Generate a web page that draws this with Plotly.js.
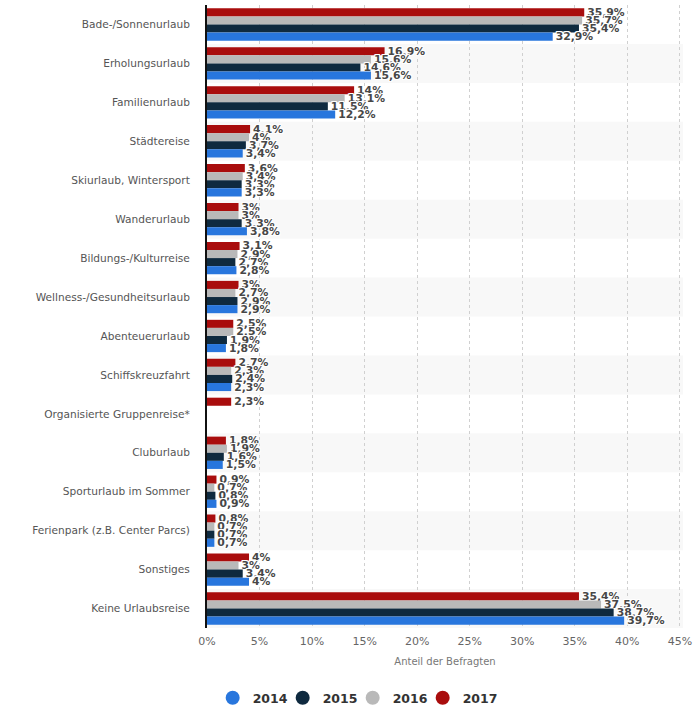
<!DOCTYPE html>
<html>
<head>
<meta charset="utf-8">
<script src="https://cdn.plot.ly/plotly-3.0.1.min.js"></script>
<style>html,body{margin:0;padding:0;background:#fff;}#chart{width:695px;height:716px;}</style>
</head>
<body>
<div id="chart"></div>
<script>
const categories = [
  "Bade-/Sonnenurlaub","Erholungsurlaub","Familienurlaub","Städtereise",
  "Skiurlaub, Wintersport","Wanderurlaub","Bildungs-/Kulturreise",
  "Wellness-/Gesundheitsurlaub","Abenteuerurlaub","Schiffskreuzfahrt",
  "Organisierte Gruppenreise*","Cluburlaub","Sporturlaub im Sommer",
  "Ferienpark (z.B. Center Parcs)","Sonstiges","Keine Urlaubsreise"
];
const years = ["2014","2015","2016","2017"];
const v2014 = [32.9,15.6,12.2,3.4,3.3,3.8,2.8,2.9,1.8,2.3,null,1.5,0.9,0.7,4,39.7];
const v2015 = [35.4,14.6,11.5,3.7,3.3,3.3,2.7,2.9,1.9,2.4,null,1.6,0.8,0.7,3.4,38.7];
const v2016 = [35.7,15.6,13.1,4,3.4,3,2.9,2.7,2.5,2.3,null,1.9,0.7,0.7,3,37.5];
const v2017 = [35.9,16.9,14,4.1,3.6,3,3.1,3,2.5,2.7,2.3,1.8,0.9,0.8,4,35.4];
const colors = {"2014":"#2876dd","2015":"#0f2a3f","2016":"#b9b9b9","2017":"#a90d0d"};
const seriesByYear = {"2014":v2014,"2015":v2015,"2016":v2016,"2017":v2017};

const fmt = v => v == null ? "" : String(v).replace(".", ",") + "%";
const txtShadow = "-1px 0 0 #fff, 1px 0 0 #fff, 0 -1px 0 #fff, 0 1px 0 #fff, -1px -1px 0 #fff, 1px 1px 0 #fff, -1px 1px 0 #fff, 1px -1px 0 #fff";

const traces = [];
["2017","2016","2015","2014"].forEach(yr => {
  const vals = seriesByYear[yr];
  traces.push({
    type: "bar", orientation: "h", name: yr,
    x: vals, y: categories,
    marker: {color: colors[yr]},
    text: vals.map(fmt), textposition: "outside", constraintext: "none",
    cliponaxis: false,
    textfont: {family: "DejaVu Sans, sans-serif", size: 10.8, color: "#474747", weight: 600, shadow: txtShadow},
    showlegend: false, hoverinfo: "skip"
  });
});
years.forEach(yr => {
  traces.push({
    type: "scatter", mode: "markers", name: yr,
    x: [null], y: [null],
    marker: {color: colors[yr], size: 14, symbol: "circle"},
    showlegend: true, hoverinfo: "skip"
  });
});
// invisible spacer entry so the last legend label is not clipped
traces.push({
  type: "scatter", mode: "markers", name: " ",
  x: [null], y: [null],
  marker: {color: "rgba(0,0,0,0)", size: 1},
  showlegend: true, hoverinfo: "skip"
});

const shapes = [];
categories.forEach((c, i) => {
  if (i % 2 === 1) {
    shapes.push({type: "rect", xref: "paper", x0: 0, x1: 1, yref: "y", y0: i - 0.5, y1: i + 0.5,
      fillcolor: "#f8f8f8", line: {width: 0}, layer: "below"});
  }
});

const layout = {
  width: 695, height: 716,
  margin: {l: 207, r: 12, t: 5, b: 88},
  paper_bgcolor: "#fff", plot_bgcolor: "rgba(0,0,0,0)",
  font: {family: "DejaVu Sans, sans-serif", size: 11, color: "#555"},
  barmode: "group", bargap: 0.17, bargroupgap: 0,
  shapes: shapes,
  xaxis: {
    range: [0, 45.3], dtick: 5, ticksuffix: "%",
    showgrid: true, gridcolor: "#d0d0d0", griddash: "dot", gridwidth: 1,
    zeroline: false, showline: false,
    tickfont: {size: 11, color: "#666"},
    ticklabelstandoff: 5,
    title: {text: "Anteil der Befragten", font: {size: 10, color: "#777"}, standoff: 10},
    fixedrange: true
  },
  yaxis: {
    type: "category", autorange: "reversed",
    showline: true, linecolor: "#111", linewidth: 2,
    showgrid: false, zeroline: false, ticks: "",
    ticklabelstandoff: 13,
    tickfont: {size: 10.6, color: "#555"},
    fixedrange: true
  },
  legend: {
    orientation: "h", xref: "container", yref: "container",
    x: 0.306, xanchor: "left", y: 0.025, yanchor: "middle",
    font: {size: 12.5, color: "#333", weight: "bold"},
    entrywidth: 25, entrywidthmode: "pixels",
    itemwidth: 30, tracegroupgap: 0
  },
  hovermode: false
};

Plotly.newPlot("chart", traces, layout, {displayModeBar: false, staticPlot: true});
</script>
</body>
</html>
